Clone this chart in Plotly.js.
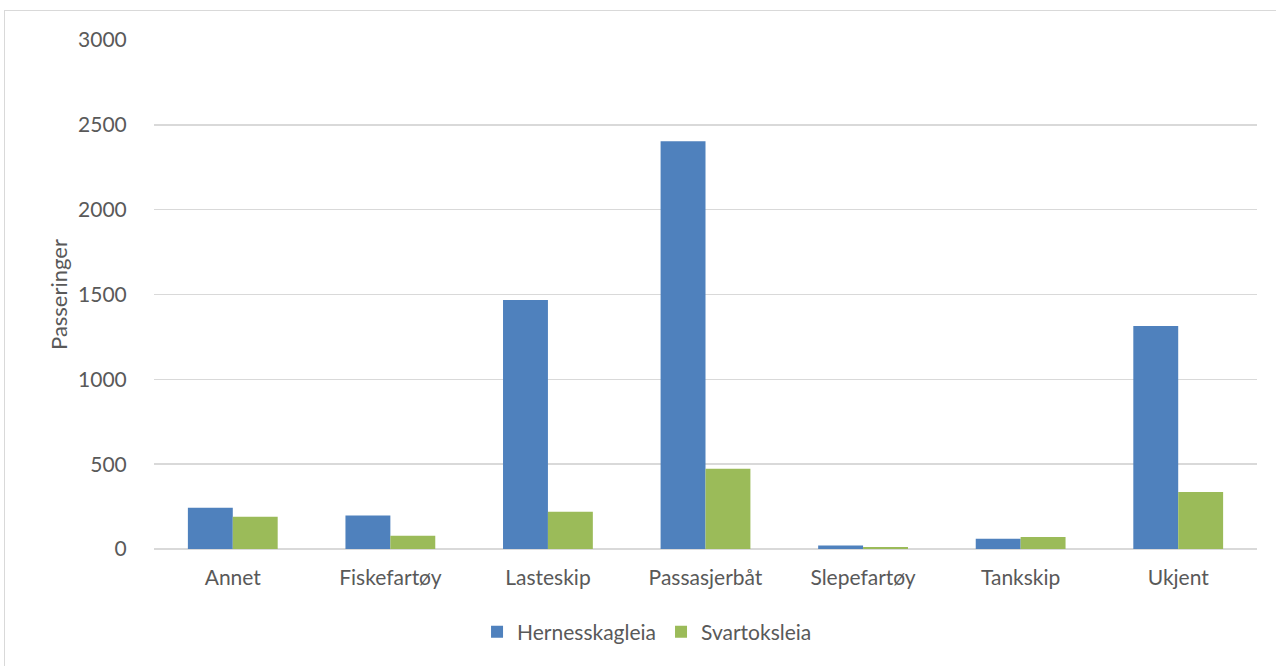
<!DOCTYPE html>
<html>
<head>
<meta charset="utf-8">
<script src="https://cdn.plot.ly/plotly-3.0.1.min.js"></script>
<style>
  html, body { margin: 0; padding: 0; background: #ffffff; overflow: hidden; }
  #frame { position: absolute; left: 4px; top: 10px; width: 1290px; height: 680px;
           border: 1px solid #d9d9d9; box-sizing: border-box; }
  #chart { position: absolute; left: 0; top: 0; width: 1276px; height: 666px; }
</style>
</head>
<body>
<div id="frame"></div>
<div id="chart"></div>
<script>
// Passeringer per skipstype
const categories = ['Annet', 'Fiskefartøy', 'Lasteskip', 'Passasjerbåt', 'Slepefartøy', 'Tankskip', 'Ukjent'];
const hernesskagleia = [243, 198, 1468, 2403, 20, 61, 1315];
const svartoksleia = [190, 78, 220, 473, 12, 71, 336];
const yTicks = [0, 500, 1000, 1500, 2000, 2500, 3000];

const font = 'Lato, "Open Sans", "Liberation Sans", sans-serif';
const textColor = '#595959';

const traces = [
  { type: 'bar', name: 'Hernesskagleia', x: categories, y: hernesskagleia,
    marker: { color: '#4f81bd' }, hoverinfo: 'x+y' },
  { type: 'bar', name: 'Svartoksleia', x: categories, y: svartoksleia,
    marker: { color: '#9bbb59' }, hoverinfo: 'x+y' }
];

const layout = {
  width: 1276, height: 666,
  paper_bgcolor: 'rgba(0,0,0,0)', plot_bgcolor: 'rgba(0,0,0,0)',
  margin: { l: 154, r: 19, t: 40, b: 117 },
  barmode: 'group', bargap: 0.43, bargroupgap: 0,
  font: { family: font, size: 21, color: textColor },
  xaxis: {
    type: 'category', showgrid: false, showline: false, zeroline: false,
    ticks: 'outside', ticklen: 10, tickcolor: 'rgba(0,0,0,0)',
    tickfont: { family: font, size: 21, color: textColor }
  },
  yaxis: {
    range: [0, 3000], tickvals: yTicks, ticktext: yTicks.map(String),
    showgrid: true, gridcolor: '#d9d9d9', gridwidth: 1.5,
    zeroline: true, zerolinecolor: '#d9d9d9', zerolinewidth: 1.5,
    showline: false, ticks: 'outside', ticklen: 22, tickcolor: 'rgba(0,0,0,0)',
    tickfont: { family: font, size: 21, color: textColor },
    title: { text: 'Passeringer', font: { family: font, size: 22, color: textColor }, standoff: 4 }
  },
  showlegend: true,
  legend: {
    orientation: 'h', x: 0.447, xanchor: 'center', y: -0.123, yanchor: 'top',
    font: { family: font, size: 21, color: textColor },
    itemwidth: 30, tracegroupgap: 0
  }
};

Plotly.newPlot('chart', traces, layout, { displayModeBar: false, staticPlot: true });
</script>
</body>
</html>
